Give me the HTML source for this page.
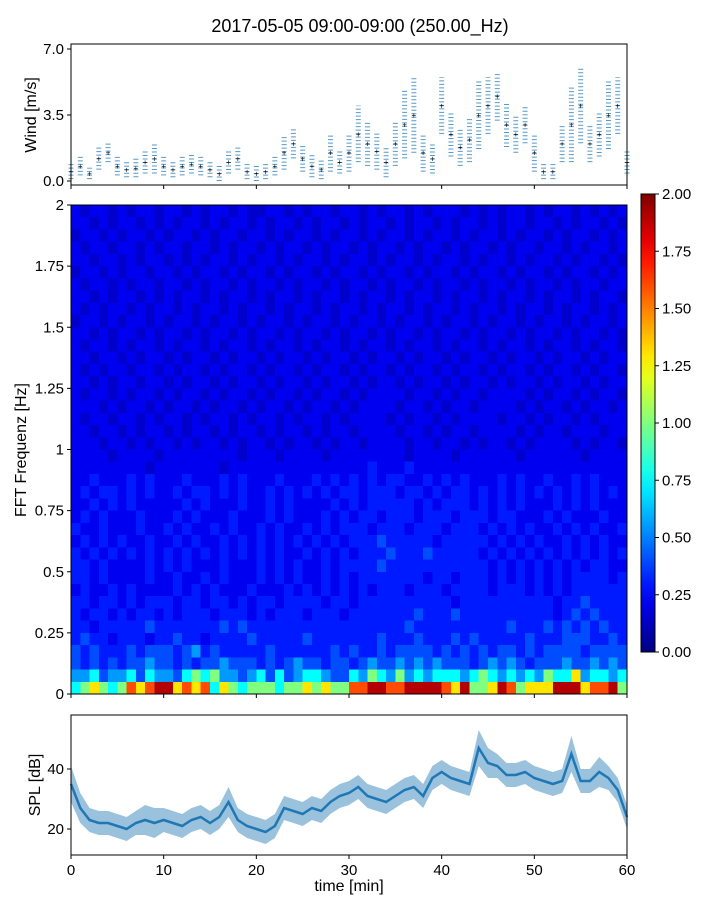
<!DOCTYPE html>
<html><head><meta charset="utf-8">
<style>
body{margin:0;background:#fff;}
svg text{font-family:"Liberation Sans",sans-serif;fill:#000;}
</style></head>
<body>
<svg id="fig" width="720" height="900" xmlns="http://www.w3.org/2000/svg">
<text x="360" y="32" font-size="18" text-anchor="middle">2017-05-05 09:00-09:00 (250.00_Hz)</text>
<g id="wind"></g>
<g id="spec"></g>
<g id="cbar"></g>
<g id="spl"></g>
</svg>
<script>
// ---- data ----
const windMinutes=[0,1,2,3,4,5,6,7,8,9,10,11,12,13,14,15,16,17,18,19,20,21,22,23,24,25,26,27,28,29,30,31,32,33,34,35,36,37,38,39,40,41,42,43,44,45,46,47,48,49,50,51,52,53,54,55,56,57,58,59,60];
const windMean=[0.5,0.8,0.4,1.2,1.5,0.8,0.6,0.7,1.0,1.2,0.8,0.6,0.8,0.9,0.8,0.6,0.4,1.0,1.2,0.5,0.4,0.5,0.8,1.5,2.0,1.2,0.8,0.6,1.5,1.0,1.5,2.5,2.0,1.6,1.0,2.0,3.0,3.5,1.5,1.2,4.0,2.5,1.8,2.2,3.5,4.0,4.5,3.0,2.5,3.0,1.5,0.5,0.5,2.0,3.0,4.0,2.0,2.5,3.5,4.0,1.0];
const windSpread=[0.4,0.5,0.3,0.6,0.5,0.5,0.4,0.5,0.6,0.8,0.5,0.4,0.5,0.5,0.5,0.4,0.4,0.6,0.6,0.4,0.4,0.4,0.5,0.9,0.8,0.7,0.6,0.5,1.0,0.6,1.0,1.5,1.2,1.0,0.8,1.2,1.8,2.0,1.0,0.8,1.5,1.2,1.0,1.2,1.8,1.5,1.3,1.2,1.0,1.0,1.0,0.4,0.4,1.0,2.0,2.0,1.0,1.2,1.8,1.5,0.6];
const windTicks=[0.0,3.5,7.0];
const splMinutes=windMinutes;
const splMean=[35,27,23,22,22,21,20,22,23,22,23,22,21,23,24,22,24,29,23,21,20,19,21,27,26,25,27,26,29,31,32,34,31,30,29,31,33,34,31,37,39,37,36,35,47,42,41,38,38,39,37,36,35,36,45,36,36,39,37,33,24];
const splSpread=[6,5,4,4,4,4,4,4,5,5,4,4,4,4,4,4,4,5,4,4,4,4,4,4,4,4,4,4,4,4,4,4,4,4,4,4,4,4,4,4,4,4,4,4,6,5,4,4,4,4,4,4,4,4,6,4,4,5,4,4,4];
const splTicks=[20,40];
const timeTicks=[0,10,20,30,40,50,60];
const freqTicks=[0,0.25,0.5,0.75,1,1.25,1.5,1.75,2];
const cbarTicks=[0,0.25,0.5,0.75,1,1.25,1.5,1.75,2];
// digit level -> spectral value
const levelValues=[0.15,0.22,0.3,0.4,0.55,0.75,1.0,1.3,1.6,1.9];
// spectrogram: rows top (2 Hz) to bottom (0 Hz), 0.05 Hz each
const specRows=[
"101101011011010110100110101101101011010111010101101011010101",
"110101101010110101101011010110101101011010110101101101011010",
"011010110101101011011010110101101011010110101101011010110101",
"101101101011011010110101101011010110101101011010110110101101",
"110110101101010110101101011010110101101011010110101101011010",
"011010110110101101011010110101101011010110101101011010110101",
"101101011011010110101101011010110101101011010110101101011011",
"110101101010110101101011010110101101011010110101101011010110",
"101011010110101101011010110101101011010110101101011010110101",
"011010110101101011010110101101011010110101101011010110101101",
"110101101011010110101101011010110101101011010110101101011010",
"101101011010110101101011010110101101011010110101101011010110",
"110110101101011010110101101011010110101101011010110101101011",
"101011011010110101101011010110101101011010110101101011010110",
"110101101101011010110101101011010110101101011010110101101011",
"101101011010110101101011010110101111011010110111101011010110",
"111010110101101011010110101101011110110101101111010110101101",
"101101101011010110101101011010111101011010111101101011010111",
"110110101101011010110101101011011110110101101111010110111011",
"111011010110101101011010110101101111011011010110101111010110",
"111101111011111111011101111011111111011110111111011111101111",
"111111110111111101111111111111112111211111111111111111111111",
"112111212111211121211121112121212122112121211121211211212111",
"121221212112122121211212121212212221221212212121212121212121",
"112121211111212111211212111121212222212122212121211121212111",
"121211121112121112111212111212122122212221222122111212111211",
"211211121121211212112121121212221222122212221212121121212112",
"121212112112121121212121212121222322222122222121212112121211",
"212121212121212121212121121212122232223222221212121212121212",
"221211112121211121112121211212222322222222222121212121212211",
"221211112112112121112121211212122222221221222121212121222212",
"121121211112121211121112121212121222122212222122212121222222",
"221221212221221221212212222122122222222221222222222212232222",
"212212122121222122212122212221222222232223222222222212323222",
"221222223222222232322222222222222222322222222223222323232322",
"232212221223221222232222232222222322232223232222232223332232",
"323222323332342322222322222232322323333232323233232333323333",
"323232334332323343332323433233234334343433323434323334334343",
"445344535443565644345353455433546546454555456545454655745545",
"567656878997878576566656676766889988999987966798677799978896"
];
// ---- helpers ----
const NS="http://www.w3.org/2000/svg";
function mk(tag,attrs,parent,text){const e=document.createElementNS(NS,tag);for(const k in attrs)e.setAttribute(k,attrs[k]);if(text!==undefined)e.textContent=text;parent.appendChild(e);return e;}
function jet(v){const x=Math.max(0,Math.min(1,v));const c=t=>Math.round(255*Math.max(0,Math.min(1,1.5-Math.abs(4*x-t))));return `rgb(${c(3)},${c(2)},${c(1)})`;}
const X0=71,X1=627;
const xs=t=>X0+(t/60)*(X1-X0);
// ---- wind ----
const W=document.getElementById('wind');
const wy=v=>181-(v/3.5)*66;
for(let i=0;i<windMinutes.length;i++){
  const x=xs(windMinutes[i]);
  const ln=mk('line',{x1:x,x2:x,y1:wy(Math.max(0,windMean[i]-windSpread[i])),y2:wy(windMean[i]+windSpread[i]),stroke:'#1f77b4','stroke-width':5,'stroke-dasharray':'1 2.5',opacity:0.75},W);
  
  
  const p=mk('text',{x:x,y:wy(windMean[i])+3,'font-size':8,'text-anchor':'middle',fill:'#1f77b4'},W,'+');
  
  
}
mk('rect',{x:X0,y:44,width:X1-X0,height:141,fill:'none',stroke:'#000','stroke-width':1},W);
windTicks.forEach(v=>{const y=wy(v);mk('line',{x1:X0-4,x2:X0,y1:y,y2:y,stroke:'#000'},W);
 const t=mk('text',{x:X0-7,y:y+5,'font-size':15,'text-anchor':'end'},W,v.toFixed(1));});
timeTicks.forEach(v=>mk('line',{x1:xs(v),x2:xs(v),y1:185,y2:189,stroke:'#000'},W));
const wl=mk('text',{transform:'translate(36,115) rotate(-90)','font-size':16,'text-anchor':'middle'},W,'Wind [m/s]');

// ---- spectrogram ----
const S=document.getElementById('spec');
const SY0=205,SY1=694;
const fy=f=>SY1-(f/2)*(SY1-SY0);
const nR=specRows.length,nC=60;
const g=mk('g',{'shape-rendering':'crispEdges'},S);
for(let r=0;r<nR;r++){for(let c=0;c<nC;c++){
  const d=parseInt(specRows[r].charAt(c)||'1');const val=levelValues[d];
  const fTop=2-r*(2/nR),fBot=2-(r+1)*(2/nR);
  const rc=mk('rect',{x:xs(c),y:fy(fTop),width:xs(c+1)-xs(c)+0.5,height:fy(fBot)-fy(fTop)+0.5,fill:jet(val/2)},g);
  
  
}}
mk('rect',{x:X0,y:SY0,width:X1-X0,height:SY1-SY0,fill:'none',stroke:'#000'},S);
freqTicks.forEach(v=>{const y=fy(v);mk('line',{x1:X0-4,x2:X0,y1:y,y2:y,stroke:'#000'},S);
 const t=mk('text',{x:X0-7,y:y+5,'font-size':15,'text-anchor':'end'},S,String(v));});
timeTicks.forEach(v=>mk('line',{x1:xs(v),x2:xs(v),y1:SY1,y2:SY1+4,stroke:'#000'},S));
const sl=mk('text',{transform:'translate(26,450) rotate(-90)','font-size':16,'text-anchor':'middle'},S,'FFT Frequenz [Hz]');

// ---- colorbar ----
const C=document.getElementById('cbar');
const CY0=194,CY1=652,CX=641,CW=14;
const defs=mk('defs',{},C);const lg=mk('linearGradient',{id:'jetg',x1:0,y1:1,x2:0,y2:0},defs);
for(let i=0;i<=20;i++)mk('stop',{offset:(i/20),'stop-color':jet(i/20)},lg);
mk('rect',{x:CX,y:CY0,width:CW,height:CY1-CY0,fill:'url(#jetg)',stroke:'#000'},C);
cbarTicks.forEach(v=>{const y=CY1-(v/2)*(CY1-CY0);mk('line',{x1:CX+CW,x2:CX+CW+4,y1:y,y2:y,stroke:'#000'},C);
 const t=mk('text',{x:CX+CW+7,y:y+5,'font-size':15},C,v.toFixed(2));});
// ---- SPL ----
const P=document.getElementById('spl');
const PY0=715,PY1=855;
const sy=v=>829-(v-20)*3;
let up='',dn='',mid='';
for(let i=0;i<splMinutes.length;i++){up+=(i?'L':'M')+xs(splMinutes[i])+','+sy(splMean[i]+splSpread[i]);mid+=(i?'L':'M')+xs(splMinutes[i])+','+sy(splMean[i]);}
for(let i=splMinutes.length-1;i>=0;i--){dn+='L'+xs(splMinutes[i])+','+sy(splMean[i]-splSpread[i]);}
const band=mk('path',{d:up+dn+'Z',fill:'#1f77b4',opacity:0.45},P);
const line=mk('path',{d:mid,fill:'none',stroke:'#1f77b4','stroke-width':2.5},P);
mk('rect',{x:X0,y:PY0,width:X1-X0,height:PY1-PY0,fill:'none',stroke:'#000'},P);
splTicks.forEach(v=>{const y=sy(v);mk('line',{x1:X0-4,x2:X0,y1:y,y2:y,stroke:'#000'},P);
 const t=mk('text',{x:X0-7,y:y+5,'font-size':15,'text-anchor':'end'},P,String(v));});
timeTicks.forEach(v=>{const x=xs(v);mk('line',{x1:x,x2:x,y1:PY1,y2:PY1+4,stroke:'#000'},P);
 const t=mk('text',{x:x,y:PY1+20,'font-size':15,'text-anchor':'middle'},P,String(v));});
const pl=mk('text',{transform:'translate(40,785) rotate(-90)','font-size':16,'text-anchor':'middle'},P,'SPL [dB]');

const xl=mk('text',{x:349,y:891,'font-size':16,'text-anchor':'middle'},P,'time [min]');

</script>
</body></html>
